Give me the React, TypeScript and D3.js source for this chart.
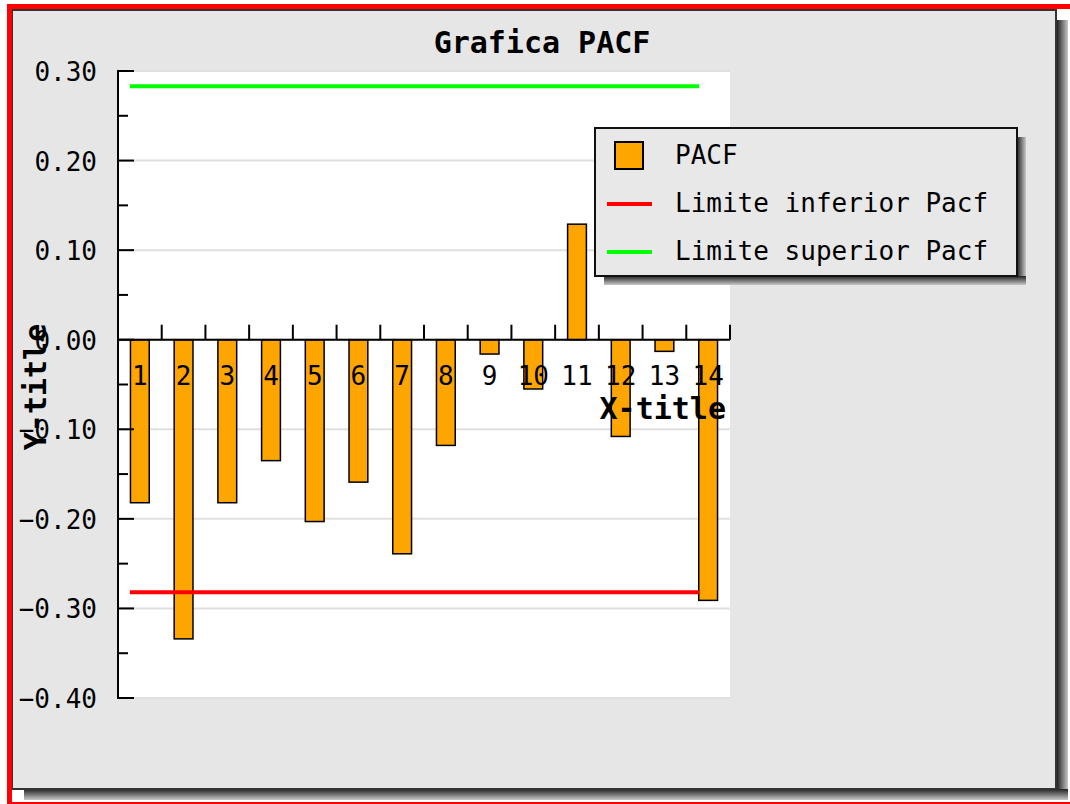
import React from "react";
import * as d3 from "d3";

const categories = ["1", "2", "3", "4", "5", "6", "7", "8", "9", "10", "11", "12", "13", "14"];
const pacfValues = [-0.182, -0.334, -0.182, -0.135, -0.203, -0.159, -0.239, -0.118, -0.016, -0.055, 0.129, -0.108, -0.013, -0.291];
const lowerLimit = -0.282;
const upperLimit = 0.283;
const yMajorTicks = [0.3, 0.2, 0.1, 0.0, -0.1, -0.2, -0.3, -0.4];
const yTickLabels = ["0.30", "0.20", "0.10", "0.00", "\u22120.10", "\u22120.20", "\u22120.30", "\u22120.40"];
const yMinorTicks = [0.25, 0.15, 0.05, -0.05, -0.15, -0.25, -0.35];
const legendLabels = ["PACF", "Limite inferior Pacf", "Limite superior Pacf"];

const FONT = "'DejaVu Sans Mono', monospace";

export default function App() {
  const left = 118, right = 730, top = 71, bottom = 698;
  const y = d3.scaleLinear().domain([-0.4, 0.3]).range([bottom, top]);
  const x = d3.scaleBand<string>().domain(categories).range([left, right]).padding(0);
  const bw = x.bandwidth();
  const cx = (c: string) => (x(c) as number) + bw / 2;
  const xl = d3
    .scalePoint<string>()
    .domain(categories)
    .range([cx(categories[0]) - 10, cx(categories[categories.length - 1]) - 9]);
  const line = d3
    .line<string>()
    .x((c) => xl(c) as number);
  const lowerPath = line.y(() => y(lowerLimit))(categories) as string;
  const upperPath = line.y(() => y(upperLimit))(categories) as string;
  const y0 = y(0);

  return (
    <svg
      width={1070}
      height={804}
      style={{ position: "absolute", left: 0, top: 0, background: "#fff" }}
    >
      <defs>
        <linearGradient id="shR" x1="0" x2="1" y1="0" y2="0">
          <stop offset="0" stopColor="#222" />
          <stop offset="1" stopColor="#c8c8c8" />
        </linearGradient>
        <linearGradient id="shB" x1="0" x2="0" y1="0" y2="1">
          <stop offset="0" stopColor="#222" />
          <stop offset="1" stopColor="#c8c8c8" />
        </linearGradient>
      </defs>
      {/* panel shadow */}
      <rect x={1057} y={20} width={11} height={780} fill="url(#shR)" />
      <rect x={24} y={789} width={1044} height={11} fill="url(#shB)" />
      {/* panel */}
      <rect x={12} y={10} width={1044} height={779} fill="#e6e6e6" stroke="#333" strokeWidth={2} />
      {/* red frame */}
      <rect x={9.5} y={6.5} width={1100} height={798} fill="none" stroke="#ff0000" strokeWidth={5} />

      {/* plot area */}
      <rect x={left} y={top} width={right - left} height={bottom - top} fill="#fff" />
      {yMajorTicks.map((t) => (
        <line key={"g" + t} x1={left} x2={right} y1={y(t)} y2={y(t)} stroke="#e0e0e0" strokeWidth={2} />
      ))}

      {/* bars */}
      {categories.map((c, i) => {
        const v = pacfValues[i];
        const yy = Math.min(y(v), y0);
        const h = Math.abs(y(v) - y0);
        return (
          <rect
            key={"b" + c}
            x={(x(c) as number) + bw * 0.285}
            y={yy}
            width={bw * 0.43}
            height={h}
            fill="#ffa500"
            stroke="#000"
            strokeWidth={1.5}
          />
        );
      })}

      {/* limit lines */}
      <path d={lowerPath} stroke="#ff0000" strokeWidth={4} fill="none" />
      <path d={upperPath} stroke="#00ff00" strokeWidth={4} fill="none" />

      {/* y axis */}
      <line x1={left} x2={left} y1={top - 1} y2={bottom + 1} stroke="#000" strokeWidth={2} />
      {yMajorTicks.map((t) => (
        <line key={"yt" + t} x1={left} x2={left + 16} y1={y(t)} y2={y(t)} stroke="#000" strokeWidth={2} />
      ))}
      {yMinorTicks.map((t) => (
        <line key={"ym" + t} x1={left} x2={left + 10} y1={y(t)} y2={y(t)} stroke="#000" strokeWidth={2} />
      ))}
      {yMajorTicks.map((t, i) => (
        <text
          key={"yl" + t}
          x={97}
          y={y(t) + 10}
          textAnchor="end"
          fontFamily={FONT}
          fontSize={26}
          fill="#000"
        >
          {yTickLabels[i]}
        </text>
      ))}

      {/* x axis */}
      <line x1={left} x2={right} y1={y0} y2={y0} stroke="#000" strokeWidth={2} />
      {categories.map((c) => {
        const xx = (x(c) as number) + bw;
        return <line key={"xt" + c} x1={xx} x2={xx} y1={y0} y2={y0 - 15} stroke="#000" strokeWidth={2} />;
      })}
      {categories.map((c) => (
        <text
          key={"xl" + c}
          x={cx(c)}
          y={385}
          textAnchor="middle"
          fontFamily={FONT}
          fontSize={26}
          fill="#000"
        >
          {c}
        </text>
      ))}

      {/* titles */}
      <text x={542} y={53} textAnchor="middle" fontFamily={FONT} fontSize={30} fontWeight="bold" fill="#000">
        Grafica PACF
      </text>
      <text x={726} y={419} textAnchor="end" fontFamily={FONT} fontSize={30} fontWeight="bold" fill="#000">
        X-title
      </text>
      <text
        transform="translate(46,387) rotate(-90)"
        textAnchor="middle"
        fontFamily={FONT}
        fontSize={30}
        fontWeight="bold"
        fill="#000"
      >
        Y-title
      </text>

      {/* legend */}
      <rect x={1017} y={137} width={9} height={148} fill="url(#shR)" />
      <rect x={604} y={276} width={422} height={9} fill="url(#shB)" />
      <rect x={595} y={128} width={422} height={148} fill="#e8e8e8" stroke="#111" strokeWidth={2} />
      <rect x={615} y={142} width={28} height={27} fill="#ffa500" stroke="#000" strokeWidth={2} />
      <line x1={607} x2={652} y1={204} y2={204} stroke="#ff0000" strokeWidth={4} />
      <line x1={607} x2={652} y1={252} y2={252} stroke="#00ff00" strokeWidth={4} />
      {legendLabels.map((l, i) => (
        <text key={l} x={675} y={164 + i * 48} fontFamily={FONT} fontSize={26} fill="#000">
          {l}
        </text>
      ))}
    </svg>
  );
}
